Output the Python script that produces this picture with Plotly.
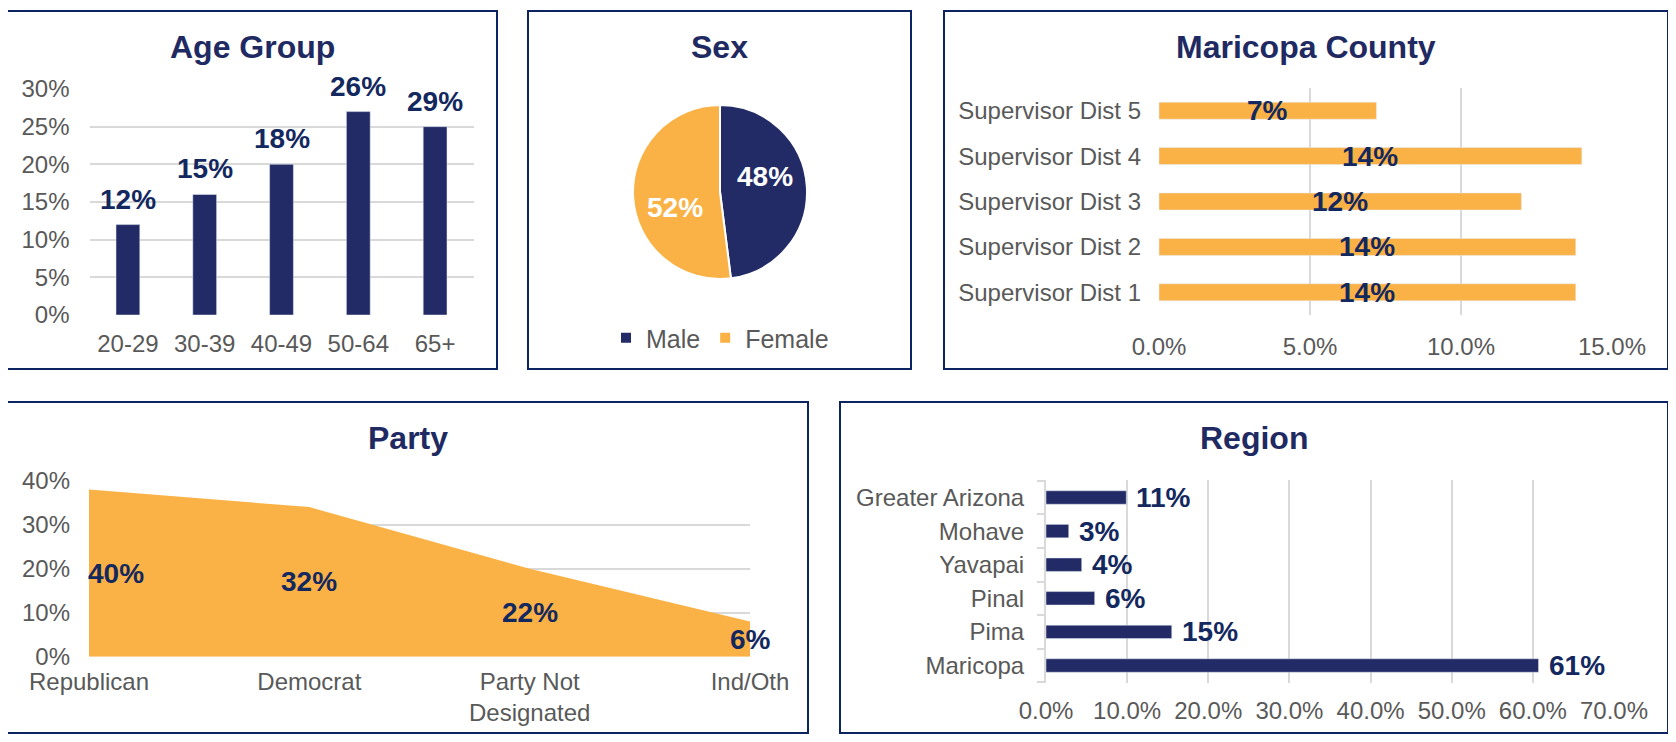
import math
import plotly.graph_objects as go

# === Data ===
age_groups = ["20-29", "30-39", "40-49", "50-64", "65+"]
age_values = [12, 16, 20, 27, 25]
age_labels = ["12%", "15%", "18%", "26%", "29%"]

sex_labels = ["Male", "Female"]
sex_values = [48, 52]

districts = ["Supervisor Dist 1", "Supervisor Dist 2", "Supervisor Dist 3",
             "Supervisor Dist 4", "Supervisor Dist 5"]
district_values = [13.8, 13.8, 12.0, 14.0, 7.2]
district_labels = ["14%", "14%", "12%", "14%", "7%"]

parties = ["Republican", "Democrat", "Party Not<br>Designated", "Ind/Oth"]
party_values = [38, 34, 20, 8]
party_labels = ["40%", "32%", "22%", "6%"]

regions = ["Maricopa", "Pima", "Pinal", "Yavapai", "Mohave", "Greater Arizona"]
region_values = [60.7, 15.5, 6.0, 4.4, 2.8, 9.9]
region_labels = ["61%", "15%", "6%", "4%", "3%", "11%"]

# === Style ===
# page is 1676x742; the figure sits inside the default 8px body margin
W, H = 1660, 726
OFF = 8
FONT = "Liberation Sans, Arial, sans-serif"
NAVY = "#222B66"
LABEL = "#13285E"
ORANGE = "#FAB246"
GRAY = "#595959"
GRID = "#D9D9D9"
BORDER = "#0C2461"


def px(x):
    return (x - OFF) / W


def py(y):
    return 1 - (y - OFF) / H


tick_font = dict(family=FONT, size=24, color=GRAY)
label_font = dict(family=FONT, size=28, color=LABEL, weight="bold")
title_font = dict(family=FONT, size=32, color="#1F2A63", weight="bold")

fig = go.Figure()

# Age group columns
fig.add_trace(go.Bar(x=age_groups, y=age_values, marker_color=NAVY, width=0.31,
                     xaxis="x", yaxis="y", showlegend=False, hoverinfo="skip"))

# Sex pie (centre 720,192 radius 87 on the page)
PIE_CX, PIE_CY, PIE_R = 720, 192, 87
fig.add_trace(go.Pie(
    labels=sex_labels, values=sex_values, sort=False, direction="clockwise", rotation=0,
    marker=dict(colors=[NAVY, ORANGE], line=dict(color="white", width=2)),
    textinfo="none",
    domain=dict(x=[px(PIE_CX - PIE_R), px(PIE_CX + PIE_R)],
                y=[py(PIE_CY + PIE_R), py(PIE_CY - PIE_R)]),
    hoverinfo="skip",
))

# Maricopa County districts
fig.add_trace(go.Bar(x=district_values, y=districts, orientation="h", marker_color=ORANGE,
                     width=0.375, xaxis="x2", yaxis="y2", showlegend=False, hoverinfo="skip"))

# Party area
fig.add_trace(go.Scatter(x=parties, y=party_values, fill="tozeroy", mode="none",
                         fillcolor=ORANGE, xaxis="x3", yaxis="y3", showlegend=False,
                         hoverinfo="skip"))

# Region bars
fig.add_trace(go.Bar(x=region_values, y=regions, orientation="h", marker_color=NAVY,
                     width=0.4, xaxis="x4", yaxis="y4", showlegend=False, hoverinfo="skip"))

# === Data labels ===
annotations = []
for cat, val, txt in zip(age_groups, age_values, age_labels):
    annotations.append(dict(x=cat, y=val, xref="x", yref="y", text=txt, showarrow=False,
                            yanchor="bottom", yshift=8, font=label_font))

# pie labels, placed like Excel's best fit (a bit before each slice's middle)
total = sum(sex_values)
start = 0.0
for val in sex_values:
    mid = (start + val / 2) / total * 360 - 15
    start += val
    r = 0.55 * PIE_R
    lx = PIE_CX + r * math.sin(math.radians(mid))
    ly = PIE_CY - r * math.cos(math.radians(mid))
    annotations.append(dict(x=px(lx), y=py(ly), xref="paper", yref="paper",
                            xanchor="center", yanchor="middle",
                            text=f"{val / total:.0%}", showarrow=False,
                            font=dict(family=FONT, size=28, color="white", weight="bold")))

for cat, val, txt in zip(districts, district_values, district_labels):
    annotations.append(dict(x=val / 2, y=cat, xref="x2", yref="y2", text=txt,
                            showarrow=False, font=label_font))
for i, (cat, val, txt) in enumerate(zip(parties, party_values, party_labels)):
    first = i == 0
    annotations.append(dict(x=cat, y=val / 2, xref="x3", yref="y3", text=txt,
                            showarrow=False, xanchor="left" if first else "center",
                            xshift=-3 if first else 0, font=label_font))
for cat, val, txt in zip(regions, region_values, region_labels):
    annotations.append(dict(x=val, y=cat, xref="x4", yref="y4", text=txt, showarrow=False,
                            xanchor="left", xshift=8, font=label_font))

# === Panel frames and titles ===
panels = [
    ("Age Group", 7, 11, 497, 369),
    ("Sex", 528, 11, 911, 369),
    ("Maricopa County", 944, 11, 1668, 369),
    ("Party", 7, 402, 808, 733),
    ("Region", 840, 402, 1668, 733),
]
shapes = []
for title, x0, y0, x1, y1 in panels:
    shapes.append(dict(type="rect", xref="paper", yref="paper",
                       x0=px(x0), x1=px(x1), y0=py(y1), y1=py(y0),
                       line=dict(color=BORDER, width=2)))
    annotations.append(dict(x=px((x0 + x1) / 2), y=py(y0 + 36), xref="paper", yref="paper",
                            text=title, showarrow=False, font=title_font,
                            xanchor="center", yanchor="middle"))

grid = dict(showgrid=True, gridcolor=GRID, gridwidth=2, zeroline=False, automargin=False)
nogrid = dict(showgrid=False, zeroline=False, automargin=False)

fig.update_layout(
    width=W, height=H,
    margin=dict(l=0, r=0, t=0, b=0, autoexpand=False),
    paper_bgcolor="white", plot_bgcolor="white",
    font=dict(family=FONT, color=GRAY),
    # Age group
    xaxis=dict(domain=[px(89.5), px(473.5)], anchor="y", type="category",
               tickfont=tick_font, ticklabelstandoff=12, **nogrid),
    yaxis=dict(domain=[py(315), py(89)], anchor="x", range=[0, 30], dtick=5,
               ticksuffix="%", tickfont=tick_font, ticklabelstandoff=19, **grid),
    # Maricopa County
    xaxis2=dict(domain=[px(1159), px(1612)], anchor="y2", range=[0, 15], dtick=5,
                tickformat=".1f", ticksuffix="%", tickfont=tick_font,
                ticklabelstandoff=15, **grid),
    yaxis2=dict(domain=[py(315), py(88)], anchor="x2", type="category",
                tickfont=tick_font, ticklabelstandoff=17, **nogrid),
    # Party
    xaxis3=dict(domain=[px(89), px(750)], anchor="y3", type="category", range=[0, 3],
                tickfont=tick_font, ticklabelstandoff=8, **nogrid),
    yaxis3=dict(domain=[py(656.7), py(480.7)], anchor="x3", range=[0, 40], dtick=10,
                ticksuffix="%", tickfont=tick_font, ticklabelstandoff=18, **grid),
    # Region
    xaxis4=dict(domain=[px(1046), px(1614)], anchor="y4", range=[0, 70], dtick=10,
                tickformat=".1f", ticksuffix="%", tickfont=tick_font,
                ticklabelstandoff=11, **grid),
    yaxis4=dict(domain=[py(683), py(480)], anchor="x4", type="category",
                showline=True, linecolor=GRID, linewidth=2, ticks="outside", ticklen=7,
                tickwidth=2, tickcolor=GRID, tickson="boundaries",
                tickfont=tick_font, ticklabelstandoff=15, **nogrid),
    legend=dict(orientation="h", x=px(720), xanchor="center", y=py(338), yanchor="middle",
                font=dict(family=FONT, size=25, color=GRAY), bgcolor="rgba(0,0,0,0)"),
    shapes=shapes,
    annotations=annotations,
)

fig.write_html("out.html")
